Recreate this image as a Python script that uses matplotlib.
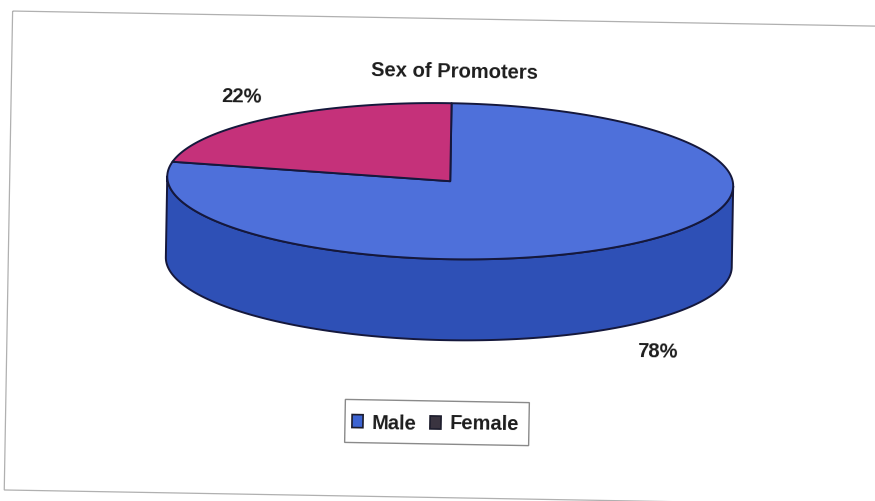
"""Sex of promoters: tilted 3-D pie drawn by hand with matplotlib patches."""
import numpy as np
import matplotlib.pyplot as plt
from matplotlib.patches import Polygon, Rectangle
from matplotlib.transforms import Affine2D

CATEGORIES = ["Male", "Female"]
SHARES = [78, 22]
TOP_COLORS = ["#4e70da", "#c5317a"]
SIDE_COLORS = ["#2e50b6", "#8e1f55"]
LEGEND_COLORS = ["#3d64d2", "#3a3440"]
TITLE = "Sex of Promoters"

W, H = 875, 501
CX, CY = 449, 181          # centre of the top face (pixels, y down)
RX, RY = 283, 78
DEPTH = 81
START = 90                 # first slice starts at 12 o'clock, runs clockwise
TILT = 1.0                 # whole sheet is turned slightly clockwise
EDGE = "#15183c"
FONT = ["Liberation Sans", "DejaVu Sans"]


def rim(t1, t2, dy=0.0, n=240):
    t = np.radians(np.linspace(t1, t2, n))
    return np.column_stack([CX + RX * np.cos(t), CY - RY * np.sin(t) + dy])


def main() -> None:
    fig = plt.figure(figsize=(W / 100, H / 100), dpi=100)
    ax = fig.add_axes([0, 0, 1, 1])
    ax.set_xlim(0, W)
    ax.set_ylim(H, 0)
    ax.axis("off")
    tilt = Affine2D().rotate_deg_around(W / 2, H / 2, TILT) + ax.transData

    # sheet border
    ax.add_patch(Rectangle((8.5, 18.5), 880, 479, fill=False,
                           edgecolor="#b0b0b0", linewidth=0.9, transform=tilt))

    total = float(sum(SHARES))
    spans = []
    a = START
    for v in SHARES:
        b = a - v / total * 360.0
        spans.append((b, a))
        a = b

    # side wall: only the front half (180..360 deg) can be seen
    for (t2, t1), col in zip(spans, SIDE_COLORS):
        for lo, hi in ((-180, 0), (180, 360), (-540, -360)):
            s, e = max(t2, lo), min(t1, hi)
            if e <= s:
                continue
            top = rim(s, e)
            bot = rim(e, s, dy=DEPTH)
            ax.add_patch(Polygon(np.vstack([top, bot]), closed=True,
                                 facecolor=col, edgecolor=EDGE,
                                 linewidth=1.4, joinstyle="round", transform=tilt))

    # top face
    for (t2, t1), col in zip(spans, TOP_COLORS):
        pts = np.vstack([[CX, CY], rim(t2, t1)])
        ax.add_patch(Polygon(pts, closed=True, facecolor=col, edgecolor=EDGE,
                             linewidth=1.4, joinstyle="round", transform=tilt))

    txt = dict(family=FONT, fontweight="bold", color="#1c1c1c",
               rotation=-TILT, rotation_mode="anchor")
    ax.text(455, 72, TITLE, fontsize=14.5, ha="center", va="center", **txt)

    # percentage labels
    label_pos = [(657, 352), (242, 97)]
    for v, (x, y) in zip(SHARES, label_pos):
        ax.text(x, y, f"{v / total:.0%}", fontsize=14.5, ha="center", va="center", **txt)

    # legend
    ax.add_patch(Rectangle((348, 401), 184, 43, fill=False, edgecolor="#8a8a8a",
                           linewidth=1.0, transform=tilt))
    for name, col, x in zip(CATEGORIES, LEGEND_COLORS, (355, 433)):
        ax.add_patch(Rectangle((x, 416), 11, 13, facecolor=col, edgecolor="#1c1c2c",
                               linewidth=1.2, transform=tilt))
        ax.text(x + 17, 424, name, fontsize=14.5, ha="left", va="center", **txt)

    fig.savefig("out.png", dpi=100, facecolor="white")
    plt.close(fig)


if __name__ == "__main__":
    main()
